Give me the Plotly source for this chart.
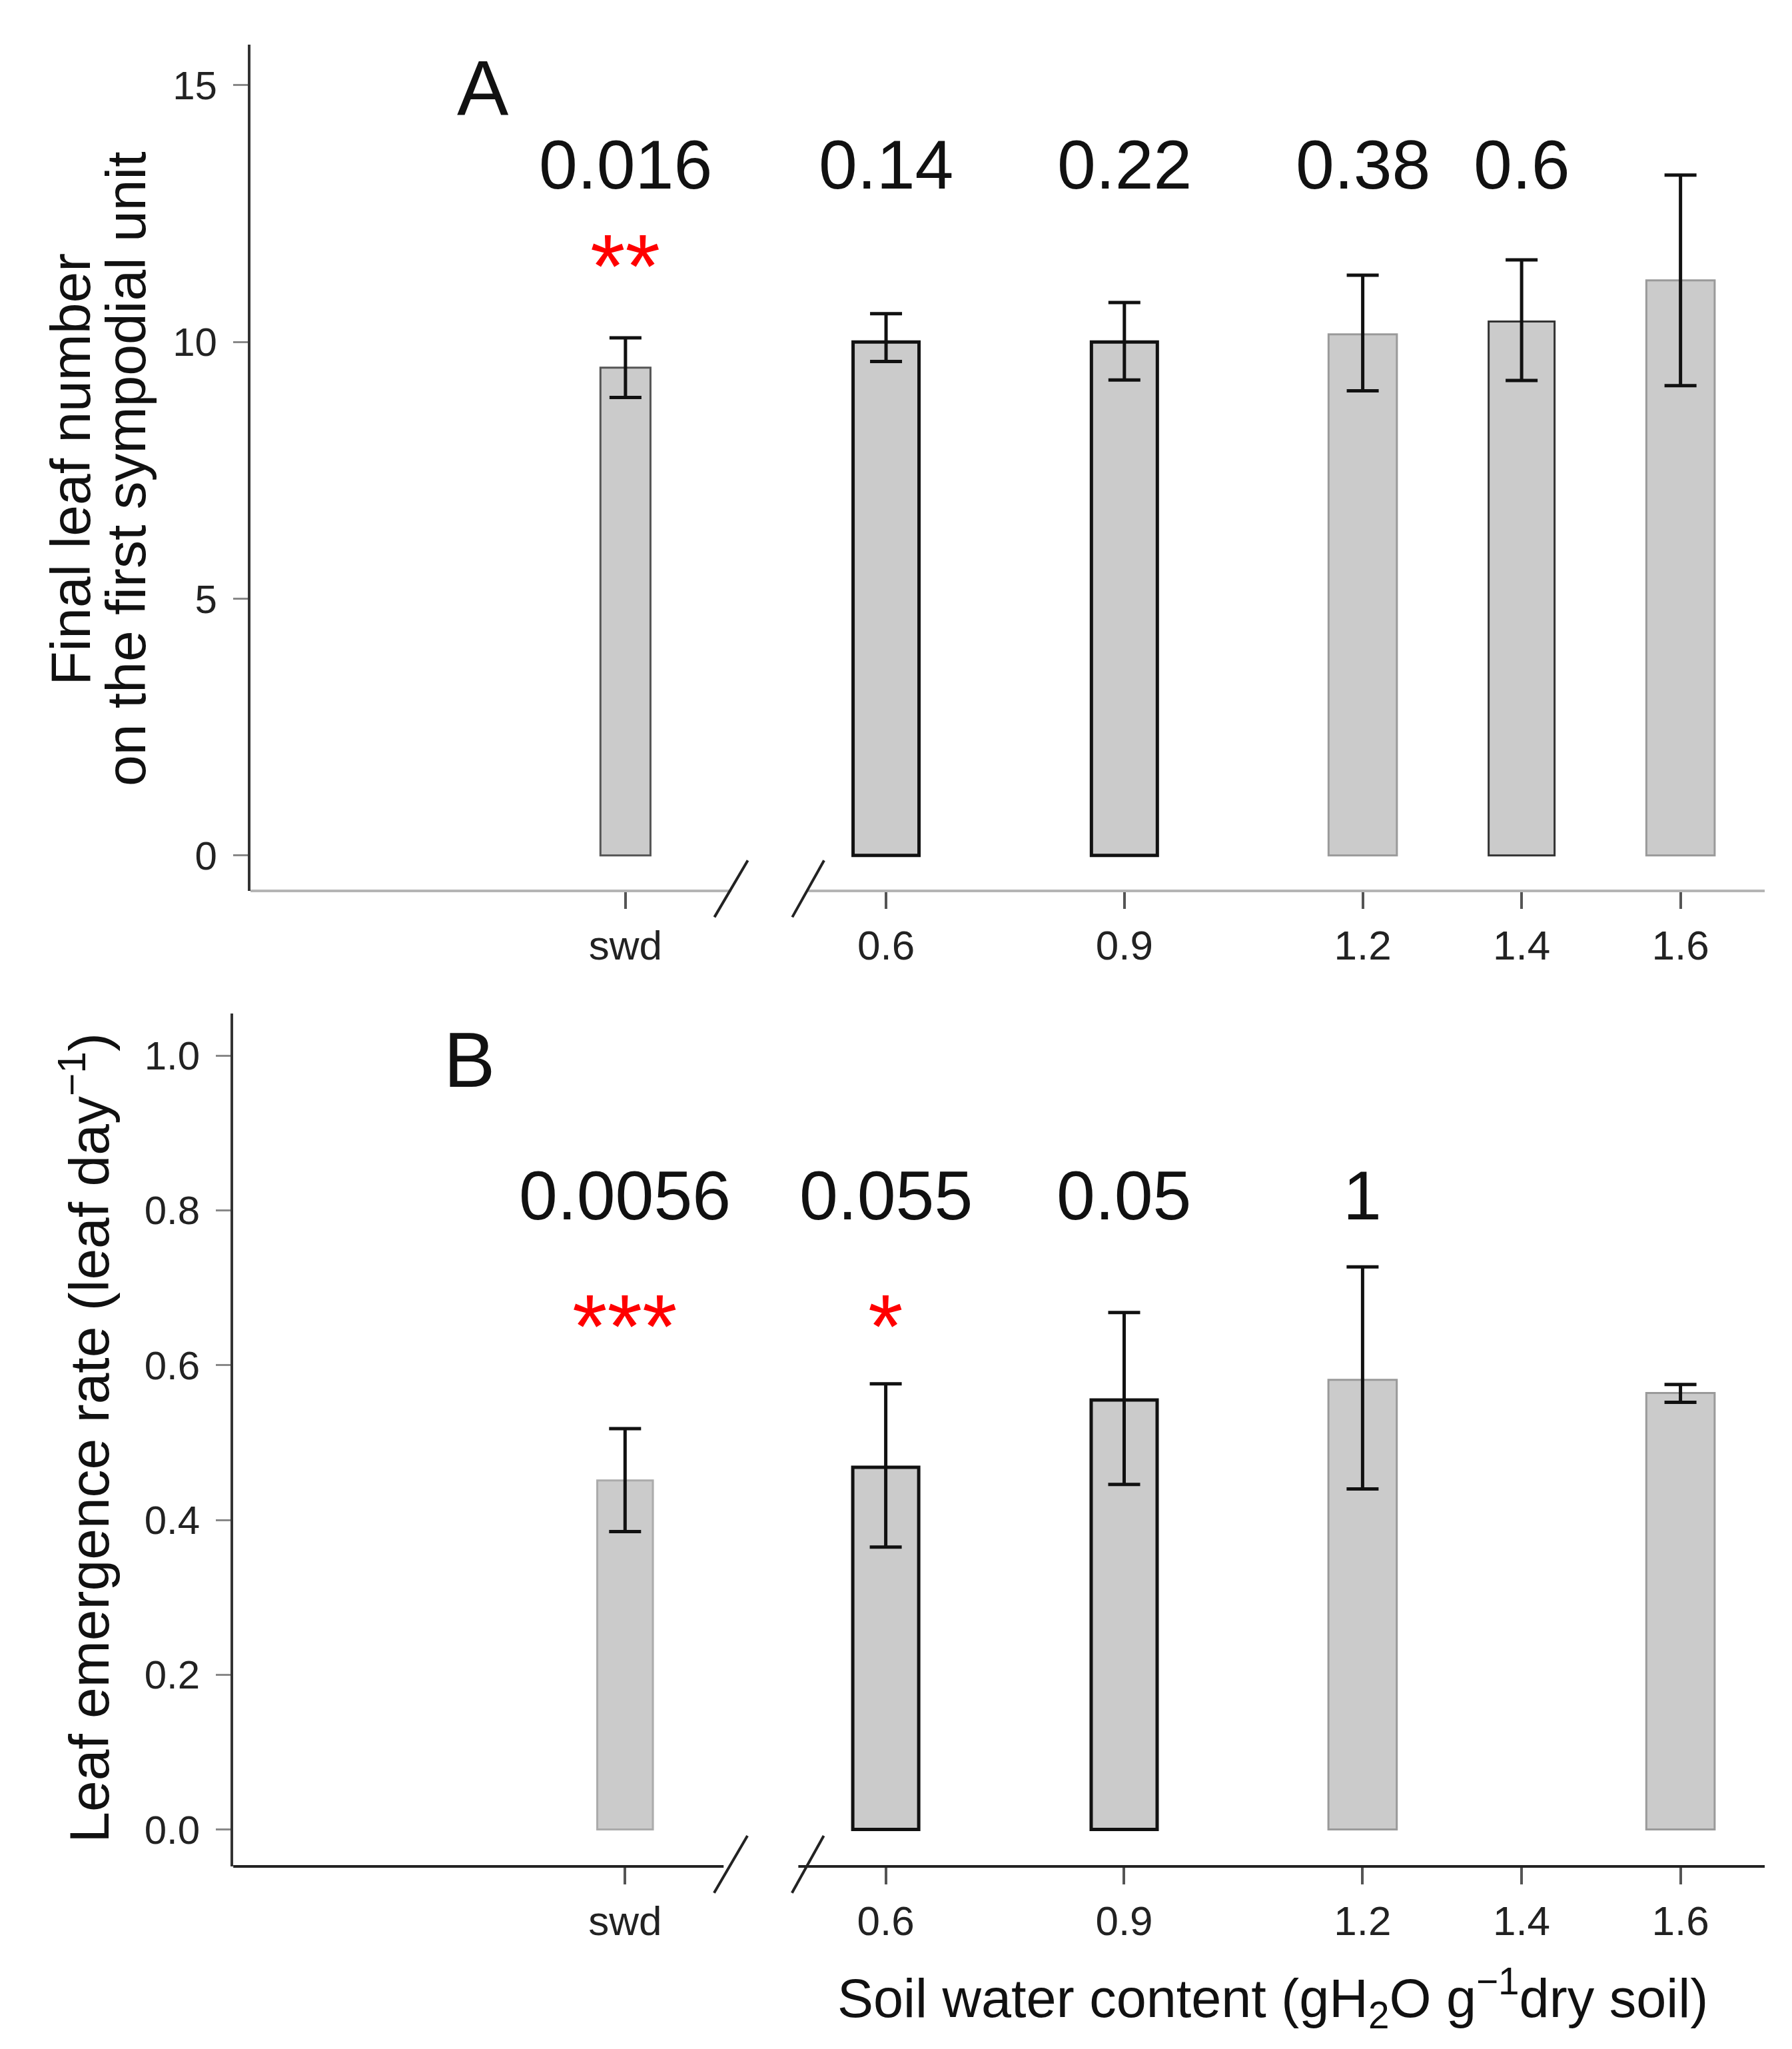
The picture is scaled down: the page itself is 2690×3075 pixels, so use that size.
import plotly.graph_objects as go

# ---------------- data ----------------
categories = ["swd", "0.6", "0.9", "1.2", "1.4", "1.6"]
swc = [None, 0.6, 0.9, 1.2, 1.4, 1.6]   # g H2O / g dry soil (swd = soil water deficit)

# panel A: final leaf number on the first sympodial unit
leaf_num = [9.5, 10.0, 10.0, 10.15, 10.4, 11.2]
leaf_num_up = [0.58, 0.55, 0.77, 1.15, 1.2, 2.05]
leaf_num_dn = [0.58, 0.38, 0.74, 1.1, 1.15, 2.05]
pval_a = ["0.016", "0.14", "0.22", "0.38", "0.6", ""]
stars_a = ["**", "", "", "", "", ""]

# panel B: leaf emergence rate
ler = [0.451, 0.468, 0.555, 0.581, None, 0.564]
ler_up = [0.067, 0.108, 0.113, 0.146, None, 0.011]
ler_dn = [0.066, 0.103, 0.109, 0.141, None, 0.012]
pval_b = ["0.0056", "0.055", "0.05", "1", "", ""]
stars_b = ["***", "*", "", "", "", ""]

# ---------------- layout helpers ----------------
W, H = 2690, 3075
SWD_POS = 0.272
xpos = [SWD_POS if v is None else v for v in swc]
XR_A = [-0.2, 1.706]
XR_B = [-0.221, 1.706]
YR_A = [-0.69, 15.79]
YR_B = [-0.0477, 1.0545]

FONT = "Liberation Sans, Arial, sans-serif"
FILL = "#cbcbcb"
edge_a = ["#555555", "#111111", "#111111", "#9a9a9a", "#333333", "#9a9a9a"]
edgew_a = [3, 5, 5, 3, 3, 3]
edge_b = ["#ababab", "#111111", "#111111", "#9a9a9a", "#9a9a9a", "#9a9a9a"]
edgew_b = [3, 5, 5, 3, 3, 3]
width_a = [0.063, 0.083, 0.083, 0.086, 0.083, 0.086]
width_b = [0.07, 0.083, 0.083, 0.086, 0.083, 0.086]

def xd(v, rng):
    return (v - rng[0]) / (rng[1] - rng[0])

fig = go.Figure()

fig.add_trace(go.Bar(
    x=xpos, y=leaf_num, width=width_a,
    marker=dict(color=FILL, line=dict(color=edge_a, width=edgew_a)),
    error_y=dict(type="data", symmetric=False, array=leaf_num_up, arrayminus=leaf_num_dn,
                 color="#111111", thickness=5, width=24),
    xaxis="x", yaxis="y", showlegend=False,
))
fig.add_trace(go.Bar(
    x=xpos, y=ler, width=width_b,
    marker=dict(color=FILL, line=dict(color=edge_b, width=edgew_b)),
    error_y=dict(type="data", symmetric=False, array=ler_up, arrayminus=ler_dn,
                 color="#111111", thickness=5, width=24),
    xaxis="x2", yaxis="y2", showlegend=False,
))

tickfont = dict(family=FONT, size=62, color="#222222")
xax = dict(tickmode="array", tickvals=xpos, ticktext=categories, showline=False,
           ticks="outside", ticklen=26, tickwidth=4, tickcolor="#555555",
           showgrid=False, zeroline=False, tickfont=tickfont, ticklabelstandoff=2,
           automargin=False, fixedrange=True)
yax = dict(showline=True, linewidth=4, linecolor="#333333", ticks="outside", ticklen=22,
           tickwidth=3, tickcolor="#888888", showgrid=False, zeroline=False,
           tickfont=dict(tickfont, size=60), ticklabelstandoff=12, automargin=False)

fig.update_layout(
    width=W, height=H, margin=dict(l=0, r=0, t=0, b=0),
    paper_bgcolor="white", plot_bgcolor="white",
    font=dict(family=FONT, color="#111111"),
    xaxis=dict(xax, range=XR_A, domain=[0.1368, 0.9818], anchor="y"),
    yaxis=dict(yax, range=YR_A, domain=[0.5678, 0.9808], anchor="x",
               tickvals=[0, 5, 10, 15]),
    xaxis2=dict(xax, range=XR_B, domain=[0.1272, 0.9818], anchor="y2"),
    yaxis2=dict(yax, range=YR_B, domain=[0.0917, 0.508], anchor="x2",
                tickvals=[0, 0.2, 0.4, 0.6, 0.8, 1.0], tickformat=".1f"),
)

# broken x axis lines and break marks
shapes = []
for xa, ya, rng, col, gap in [("x", "y", XR_A, "#b5b5b5", (0.405, 0.502)),
                              ("x2", "y2", XR_B, "#222222", (0.396, 0.49))]:
    for x0, x1 in [(rng[0], gap[0]), (gap[1], rng[1])]:
        shapes.append(dict(type="line", xref=xa + " domain", yref=ya + " domain",
                           x0=xd(x0, rng), x1=xd(x1, rng), y0=0, y1=0,
                           line=dict(color=col, width=4)))
    for s0, s1 in [(0.384, 0.426), (0.482, 0.522)]:
        shapes.append(dict(type="line", xref=xa + " domain", yref=ya + " domain",
                           x0=xd(s0, rng), x1=xd(s1, rng), y0=-0.031, y1=0.036,
                           line=dict(color="#222222", width=4)))
fig.update_layout(shapes=shapes)

# annotations
ann = []
for xa, ya, pv, st, py, sy in [("x", "y", pval_a, stars_a, 13.33, 11.67),
                               ("x2", "y2", pval_b, stars_b, 0.811, 0.663)]:
    for xp, p, s in zip(xpos, pv, st):
        if p:
            ann.append(dict(x=xp, y=py, xref=xa, yref=ya, text=p, showarrow=False,
                            yshift=10, font=dict(size=104, color="#111111")))
        if s:
            ann.append(dict(x=xp, y=sy, xref=xa, yref=ya, text=s, showarrow=False,
                            yshift=-15, font=dict(size=135, color="#ff0000")))
ann.append(dict(x=0.0925, y=14.8, xref="x", yref="y", text="A", showarrow=False,
                yshift=10, font=dict(size=116, color="#111111")))
ann.append(dict(x=0.076, y=0.991, xref="x2", yref="y2", text="B", showarrow=False,
                yshift=4, font=dict(size=116, color="#111111")))
for xx, line in [(0.0364, "Final leaf number"), (0.0673, "on the first sympodial unit")]:
    ann.append(dict(x=xx, y=0.7737, xref="paper", yref="paper", textangle=-90,
                    xanchor="center", yanchor="middle", text=line, showarrow=False,
                    font=dict(size=84, color="#111111")))
ann.append(dict(x=0.0445, y=0.3008, xref="paper", yref="paper", textangle=-90,
                xanchor="center", yanchor="middle",
                text="Leaf emergence rate (leaf day<sup>−1</sup>)", showarrow=False,
                font=dict(size=84, color="#111111")))
ann.append(dict(x=0.7074, y=0.0273, xref="paper", yref="paper",
                xanchor="center", yanchor="middle",
                text="Soil water content (gH<sub>2</sub>O g<sup>−1</sup>dry soil)",
                showarrow=False, font=dict(size=81, color="#111111")))
fig.update_layout(annotations=ann)

fig.write_html("out.html")
